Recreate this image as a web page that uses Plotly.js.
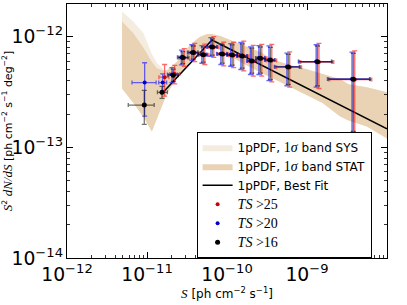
<!DOCTYPE html>
<html>
<head>
<meta charset="utf-8">
<script src="https://cdn.plot.ly/plotly-3.0.1.min.js"></script>
<style>html,body{margin:0;padding:0;background:#fff;}#chart{width:407px;height:305px;}</style>
</head>
<body>
<div id="chart"></div>
<script>
// ---- Band data (1pPDF 1-sigma bands) ----
const bandX = [4.87e-12, 6.8e-12, 9.07e-12, 1.15e-11, 1.33e-11, 1.62e-11, 1.78e-11, 2.37e-11, 2.87e-11, 3.16e-11, 4.22e-11, 4.64e-11, 5.62e-11, 6.5e-11, 8.24e-11, 1.47e-10, 2.6e-10, 3.8e-10, 6.2e-10, 1.0e-9, 1.58e-9, 2.6e-9, 3.3e-9, 5.6e-9, 1.0e-8];
const statUpper = [1.37e-12, 1.07e-12, 7.89e-13, 5.89e-13, 5.19e-13, 4.91e-13, 4.98e-13, 5.93e-13, 7.11e-13, 7.84e-13, 9.53e-13, 1.0e-12, 1.058e-12, 1.058e-12, 1.015e-12, 8.58e-13, 7.26e-13, 6.14e-13, 5.53e-13, 5.08e-13, 4.58e-13, 4.12e-13, 3.72e-13, 3.49e-13, 3.14e-13];
const statLower = [3.40e-13, 2.50e-13, 1.87e-13, 1.39e-13, 1.75e-13, 2.60e-13, 3.08e-13, 4.21e-13, 4.98e-13, 5.42e-13, 7.26e-13, 7.73e-13, 8.23e-13, 8.23e-13, 7.57e-13, 5.89e-13, 4.78e-13, 4.12e-13, 3.49e-13, 2.95e-13, 2.50e-13, 1.90e-13, 1.75e-13, 1.54e-13, 1.20e-13];
const sysUpper = [1.69e-12, 1.36e-12, 1.07e-12, 6.96e-13, 5.77e-13, 5.03e-13, 4.98e-13, 5.93e-13, 7.11e-13, 7.84e-13, 9.53e-13, 1.0e-12, 1.058e-12, 1.058e-12, 1.015e-12, 8.58e-13, 7.26e-13, 6.14e-13, 5.53e-13, 5.08e-13, 4.58e-13, 4.12e-13, 3.72e-13, 3.49e-13, 3.14e-13];
const sysLower = [3.40e-13, 2.50e-13, 1.87e-13, 1.39e-13, 1.75e-13, 2.60e-13, 3.08e-13, 4.21e-13, 4.98e-13, 5.42e-13, 7.26e-13, 7.73e-13, 8.23e-13, 8.23e-13, 7.57e-13, 5.89e-13, 4.78e-13, 4.12e-13, 3.49e-13, 2.95e-13, 2.50e-13, 1.90e-13, 1.75e-13, 1.54e-13, 1.20e-13];

// ---- Best fit (broken power law) ----
const fitX = [1.54e-11, 6.49e-11, 1.0e-8];
const fitY = [3.07e-13, 9.33e-13, 1.47e-13];

// ---- TS>16 (black) ----
const ts16X   = [9.25e-12, 1.54e-11, 2.13e-11, 2.80e-11, 3.79e-11, 5.06e-11, 6.55e-11, 8.73e-11, 1.16e-10, 1.55e-10, 2.04e-10, 2.61e-10, 3.48e-10, 5.83e-10, 1.35e-9, 3.79e-9];
const ts16Y   = [2.41e-13, 3.14e-13, 4.49e-13, 6.47e-13, 7.18e-13, 6.86e-13, 8.06e-13, 6.96e-13, 6.82e-13, 6.68e-13, 6.01e-13, 6.37e-13, 6.14e-13, 5.33e-13, 5.93e-13, 4.12e-13];
const ts16XLo = [5.83e-12, 1.35e-11, 1.84e-11, 2.46e-11, 3.28e-11, 4.38e-11, 5.68e-11, 7.57e-11, 1.01e-10, 1.35e-10, 1.80e-10, 2.32e-10, 3.01e-10, 4.0e-10, 8.0e-10, 1.85e-9];
const ts16XHi = [1.23e-11, 1.80e-11, 2.46e-11, 3.28e-11, 4.38e-11, 5.68e-11, 7.57e-11, 1.01e-10, 1.35e-10, 1.80e-10, 2.32e-10, 3.01e-10, 4.0e-10, 8.2e-10, 2.07e-9, 6.18e-9];
const ts16YLo = [1.61e-13, 2.77e-13, 3.95e-13, 5.70e-13, 6.27e-13, 5.89e-13, 6.82e-13, 5.77e-13, 5.53e-13, 5.19e-13, 4.68e-13, 4.68e-13, 4.10e-13, 3.71e-13, 3.59e-13, 1.39e-13];
const ts16YHi = [3.27e-13, 3.56e-13, 5.08e-13, 7.33e-13, 8.23e-13, 8.06e-13, 9.53e-13, 8.41e-13, 8.41e-13, 8.59e-13, 7.89e-13, 8.06e-13, 8.01e-13, 6.92e-13, 8.23e-13, 7.06e-13];

// ---- TS>20 (blue) ----
const ts20X   = [9.35e-12, 1.57e-11, 2.05e-11, 2.69e-11, 3.63e-11, 4.85e-11, 6.28e-11, 8.37e-11, 1.11e-10, 1.49e-10, 1.96e-10, 2.50e-10, 3.34e-10, 5.6e-10, 1.30e-9, 3.65e-9];
const ts20Y   = [3.85e-13, 3.85e-13, 4.55e-13, 6.5e-13, 7.2e-13, 6.9e-13, 8.1e-13, 7.0e-13, 6.85e-13, 6.7e-13, 6.05e-13, 6.4e-13, 6.15e-13, 5.35e-13, 5.95e-13, 4.15e-13];
const ts20XLo = [6.49e-12, 1.40e-11, 1.80e-11, 2.40e-11, 3.20e-11, 4.28e-11, 5.55e-11, 7.40e-11, 9.9e-11, 1.32e-10, 1.76e-10, 2.27e-10, 2.95e-10, 3.9e-10, 7.8e-10, 1.80e-9];
const ts20XHi = [1.30e-11, 1.76e-11, 2.40e-11, 3.20e-11, 4.28e-11, 5.55e-11, 7.40e-11, 9.9e-11, 1.32e-10, 1.76e-10, 2.27e-10, 2.95e-10, 3.9e-10, 8.0e-10, 2.02e-9, 6.05e-9];
const ts20YLo = [1.91e-13, 3.2e-13, 3.85e-13, 5.55e-13, 6.1e-13, 5.75e-13, 6.65e-13, 5.6e-13, 5.4e-13, 5.05e-13, 4.55e-13, 4.55e-13, 4.0e-13, 3.6e-13, 3.5e-13, 1.35e-13];
const ts20YHi = [5.81e-13, 4.6e-13, 5.25e-13, 7.55e-13, 8.45e-13, 8.3e-13, 9.8e-13, 8.65e-13, 8.65e-13, 8.85e-13, 8.1e-13, 8.3e-13, 8.25e-13, 7.1e-13, 8.45e-13, 7.25e-13];

// ---- TS>25 (red) ----
const ts25X   = [1.66e-11, 2.22e-11, 2.92e-11, 3.95e-11, 5.28e-11, 6.84e-11, 9.1e-11, 1.21e-10, 1.62e-10, 2.13e-10, 2.72e-10, 3.63e-10, 6.08e-10, 1.41e-9, 3.95e-9];
const ts25Y   = [4.3e-13, 4.6e-13, 6.45e-13, 7.15e-13, 6.85e-13, 8.0e-13, 6.95e-13, 6.8e-13, 6.65e-13, 6.0e-13, 6.35e-13, 6.1e-13, 5.3e-13, 5.9e-13, 4.1e-13];
const ts25XLo = [1.41e-11, 1.92e-11, 2.57e-11, 3.42e-11, 4.57e-11, 5.93e-11, 7.9e-11, 1.05e-10, 1.41e-10, 1.88e-10, 2.42e-10, 3.14e-10, 4.18e-10, 8.35e-10, 1.93e-9];
const ts25XHi = [1.88e-11, 2.57e-11, 3.42e-11, 4.57e-11, 5.93e-11, 7.9e-11, 1.05e-10, 1.41e-10, 1.88e-10, 2.42e-10, 3.14e-10, 4.18e-10, 8.55e-10, 2.16e-9, 6.45e-9];
const ts25YLo = [2.9e-13, 3.75e-13, 5.4e-13, 5.95e-13, 5.6e-13, 6.5e-13, 5.45e-13, 5.25e-13, 4.9e-13, 4.4e-13, 4.4e-13, 3.9e-13, 3.5e-13, 3.4e-13, 1.3e-13];
const ts25YHi = [5.6e-13, 5.5e-13, 7.8e-13, 8.7e-13, 8.55e-13, 1.0e-12, 8.9e-13, 8.9e-13, 9.1e-13, 8.35e-13, 8.5e-13, 8.5e-13, 7.3e-13, 8.7e-13, 7.45e-13];

const SERIF = 'font-family:Liberation Serif;font-size:14px';
const SERIFI = 'font-family:Liberation Serif;font-style:italic;font-size:13px';

function band(xs, up, lo, name, color) {
  return {
    x: xs.concat(xs.slice().reverse()),
    y: up.concat(lo.slice().reverse()),
    type: 'scatter', mode: 'lines', fill: 'toself',
    fillcolor: color, line: {width: 0, color: color},
    name: name, hoverinfo: 'skip'
  };
}
function pts(xs, ys, xlo, xhi, ylo, yhi, name, mcolor, ecolor, msize) {
  return {
    x: xs, y: ys, type: 'scatter', mode: 'markers', name: name,
    marker: {color: mcolor, size: msize},
    error_x: {type: 'data', symmetric: false,
      array: xs.map((v, i) => xhi[i] - v), arrayminus: xs.map((v, i) => v - xlo[i]),
      color: ecolor, thickness: 1.3, width: 2},
    error_y: {type: 'data', symmetric: false,
      array: ys.map((v, i) => yhi[i] - v), arrayminus: ys.map((v, i) => v - ylo[i]),
      color: ecolor, thickness: 1.3, width: 2.5}
  };
}

const traces = [
  band(bandX, sysUpper, sysLower, '1pPDF, <span style="' + SERIF + '">1<i>σ</i></span> band SYS', 'rgb(245,236,224)'),
  band(bandX, statUpper, statLower, '1pPDF, <span style="' + SERIF + '">1<i>σ</i></span> band STAT', 'rgb(233,211,180)'),
  {x: fitX, y: fitY, type: 'scatter', mode: 'lines', name: '1pPDF, Best Fit',
   line: {color: 'black', width: 1.5}},
  pts(ts25X, ts25Y, ts25XLo, ts25XHi, ts25YLo, ts25YHi,
      '<span style="' + SERIF + '"><i>TS</i> &gt;25</span>', 'rgb(200,0,0)', 'rgba(255,40,40,0.7)', 4),
  pts(ts20X, ts20Y, ts20XLo, ts20XHi, ts20YLo, ts20YHi,
      '<span style="' + SERIF + '"><i>TS</i> &gt;20</span>', 'rgb(0,0,200)', 'rgba(40,40,255,0.7)', 4),
  pts(ts16X, ts16Y, ts16XLo, ts16XHi, ts16YLo, ts16YHi,
      '<span style="' + SERIF + '"><i>TS</i> &gt;16</span>', 'black', 'rgba(0,0,0,0.55)', 5)
];

const axisCommon = {
  type: 'log', showline: true, mirror: 'allticks', linecolor: 'black', linewidth: 1,
  ticks: 'inside', ticklen: 6, tickwidth: 1, tickcolor: 'black',
  dtick: 1, exponentformat: 'power', showgrid: false, zeroline: false,
  tickfont: {family: 'DejaVu Sans', size: 15, color: 'black'},
  minor: {ticks: 'inside', ticklen: 3, tickwidth: 0.8, tickcolor: 'black', dtick: 'D1', showgrid: false}
};

const layout = {
  width: 407, height: 305,
  margin: {l: 67, r: 20, t: 4, b: 47},
  paper_bgcolor: 'white', plot_bgcolor: 'white',
  font: {family: 'DejaVu Sans', color: 'black'},
  showlegend: true,
  legend: {x: 0.405, y: 0.497, xanchor: 'left', yanchor: 'top',
    bgcolor: 'white', bordercolor: 'black', borderwidth: 1,
    font: {family: 'DejaVu Sans', size: 12, color: 'black'}},
  xaxis: Object.assign({}, axisCommon, {
    range: [-12, -8],
    title: {text: '<span style="' + SERIFI + '">S</span> [ph cm<sup>−2</sup> s<sup>−1</sup>]',
            font: {family: 'DejaVu Sans', size: 12, color: 'black'}, standoff: 2}
  }),
  yaxis: Object.assign({}, axisCommon, {
    range: [-14, -11.705],
    title: {text: '<span style="' + SERIFI + '">S</span><sup>2</sup> <span style="' + SERIFI + '">dN/dS</span> [ph cm<sup>−2</sup> s<sup>−1</sup> deg<sup>−2</sup>]',
            font: {family: 'DejaVu Sans', size: 11, color: 'black'}, standoff: 4}
  })
};

Plotly.newPlot('chart', traces, layout, {staticPlot: true, displayModeBar: false});
</script>
</body>
</html>
